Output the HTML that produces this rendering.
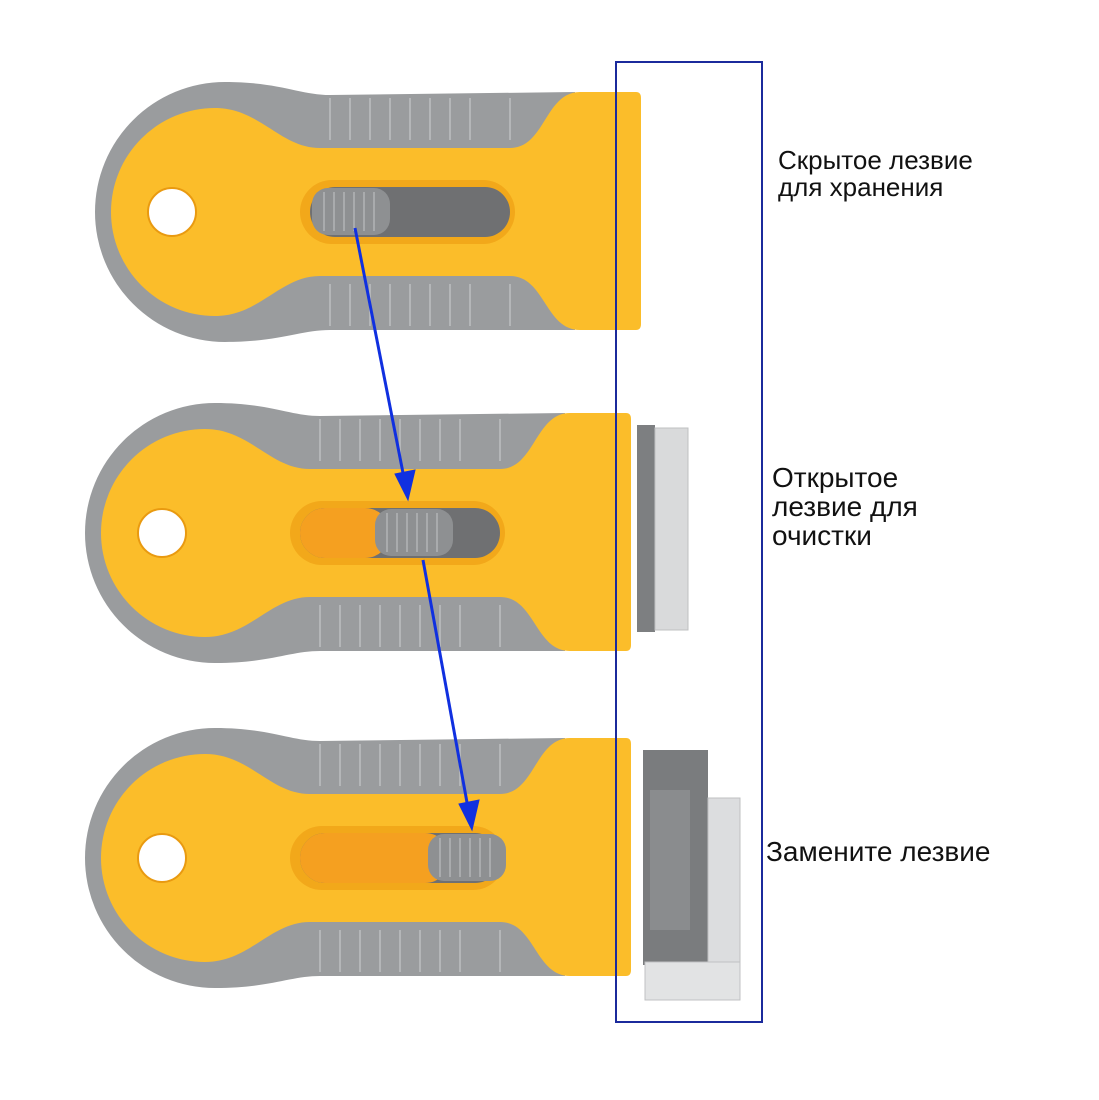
<!DOCTYPE html>
<html><head><meta charset="utf-8"><style>
html,body{margin:0;padding:0;background:#fff;}
svg{display:block}
text{font-family:"Liberation Sans",sans-serif;font-size:28px;fill:#111}
</style></head><body>
<svg width="1099" height="1100" viewBox="0 0 1099 1100">
<defs>
<g id="body">
  <path d="M225 82 C280 82 300 95 330 95 L575 92 L575 330 L330 330 C300 330 280 342 225 342 A130 130 0 0 1 225 82 Z" fill="#9a9c9e"/>
  <path d="M215 108 C260 108 280 148 320 148 L510 148 C545 148 545 92 580 92 L636 92 Q641 92 641 98 L641 324 Q641 330 636 330 L580 330 C545 330 545 276 510 276 L320 276 C280 276 260 316 215 316 A104 104 0 0 1 215 108 Z" fill="#fbbd2a"/>
  <g stroke="#b4b6b8" stroke-width="2">
    <line x1="330" y1="98" x2="330" y2="140"/><line x1="350" y1="98" x2="350" y2="140"/><line x1="370" y1="98" x2="370" y2="140"/><line x1="390" y1="98" x2="390" y2="140"/><line x1="410" y1="98" x2="410" y2="140"/><line x1="430" y1="98" x2="430" y2="140"/><line x1="450" y1="98" x2="450" y2="140"/><line x1="470" y1="98" x2="470" y2="140"/><line x1="510" y1="98" x2="510" y2="140"/>
    <line x1="330" y1="284" x2="330" y2="326"/><line x1="350" y1="284" x2="350" y2="326"/><line x1="370" y1="284" x2="370" y2="326"/><line x1="390" y1="284" x2="390" y2="326"/><line x1="410" y1="284" x2="410" y2="326"/><line x1="430" y1="284" x2="430" y2="326"/><line x1="450" y1="284" x2="450" y2="326"/><line x1="470" y1="284" x2="470" y2="326"/><line x1="510" y1="284" x2="510" y2="326"/>
  </g>
  <circle cx="172" cy="212" r="24" fill="#fff" stroke="#e99a10" stroke-width="2"/>
  <rect x="300" y="180" width="215" height="64" rx="32" fill="#f2a81a"/>
  <rect x="310" y="187" width="200" height="50" rx="25" fill="#6f7072"/>
</g>
<g id="slider">
  <rect x="0" y="188" width="78" height="47" rx="16" fill="#8e9092"/>
  <g stroke="#a9abad" stroke-width="2"><line x1="12" y1="192" x2="12" y2="231"/><line x1="22" y1="192" x2="22" y2="231"/><line x1="32" y1="192" x2="32" y2="231"/><line x1="42" y1="192" x2="42" y2="231"/><line x1="52" y1="192" x2="52" y2="231"/><line x1="62" y1="192" x2="62" y2="231"/></g>
</g>
</defs>
<use href="#body"/>
<use href="#slider" transform="translate(312 0)"/>
<g transform="translate(-10 321)">
  <use href="#body"/>
  <rect x="310" y="187" width="90" height="50" rx="25" fill="#f5a020"/>
  <use href="#slider" transform="translate(385 0)"/>
</g>
<rect x="637" y="425" width="18" height="207" fill="#7d7f81"/>
<rect x="655" y="428" width="33" height="202" fill="#d9dadb" stroke="#bfc0c2"/>
<g transform="translate(-10 646)">
  <use href="#body"/>
  <rect x="310" y="187" width="150" height="50" rx="25" fill="#f5a020"/>
  <use href="#slider" transform="translate(438 0)"/>
</g>
<rect x="643" y="750" width="65" height="215" fill="#7a7c7e"/>
<rect x="650" y="790" width="40" height="140" fill="#8a8c8e"/>
<rect x="708" y="798" width="32" height="202" fill="#dcdddf" stroke="#bfc0c2"/>
<rect x="645" y="962" width="95" height="38" fill="#e2e3e4" stroke="#c0c1c3"/>
<rect x="616" y="62" width="146" height="960" fill="none" stroke="#1b2a9c" stroke-width="2"/>
<g stroke="#1030e0" stroke-width="3" fill="#1030e0">
  <line x1="355" y1="228" x2="404" y2="478"/>
  <polygon points="408,500 395,474 415,470" stroke-width="1"/>
  <line x1="423" y1="560" x2="468" y2="808"/>
  <polygon points="472,830 459,804 479,800" stroke-width="1"/>
</g>
<text x="778" y="169" style="font-size:26px">Скрытое лезвие</text>
<text x="778" y="196" style="font-size:26px">для хранения</text>
<text x="772" y="487">Открытое</text>
<text x="772" y="516">лезвие для</text>
<text x="772" y="545">очистки</text>
<text x="766" y="861">Замените лезвие</text>
</svg>
</body></html>
